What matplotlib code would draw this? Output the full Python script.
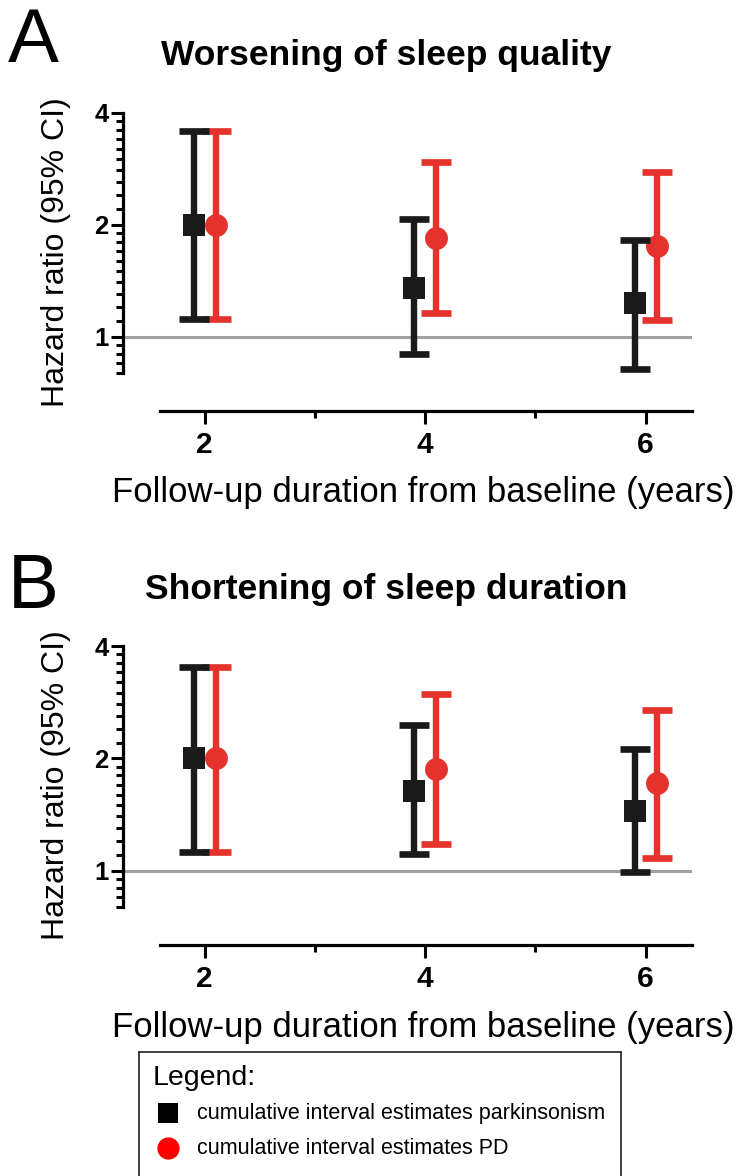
import matplotlib
matplotlib.use("Agg")
import matplotlib.pyplot as plt
from matplotlib.lines import Line2D
import numpy as np

# ---------------- data ----------------
years = [2, 4, 6]
# Panel A: Worsening of sleep quality
a_park_hr = [2.00, 1.35, 1.23]
a_park_lo = [1.12, 0.90, 0.82]
a_park_hi = [3.57, 2.07, 1.82]
a_pd_hr = [2.00, 1.84, 1.75]
a_pd_lo = [1.12, 1.16, 1.11]
a_pd_hi = [3.57, 2.94, 2.77]
# Panel B: Shortening of sleep duration
b_park_hr = [2.00, 1.64, 1.45]
b_park_lo = [1.12, 1.11, 0.99]
b_park_hi = [3.52, 2.46, 2.12]
b_pd_hr = [2.00, 1.87, 1.72]
b_pd_lo = [1.12, 1.18, 1.08]
b_pd_hi = [3.52, 2.98, 2.70]

titles = ["Worsening of sleep quality", "Shortening of sleep duration"]
letters = ["A", "B"]
y_major = [1, 2, 4]
y_labels = ["1", "2", "4"]
x_major = [2, 4, 6]
x_labels = ["2", "4", "6"]
legend_labels = ["cumulative interval estimates parkinsonism",
                 "cumulative interval estimates PD"]

# ---------------- style ----------------
plt.rcParams["font.family"] = ["Liberation Sans", "DejaVu Sans"]

BLACK = "#1a1a1a"
RED = "#e5322d"
GRAY = "#a0a0a0"

W, H = 742, 1176
fig = plt.figure(figsize=(W / 100, H / 100), dpi=100)


def fx(px):
    return px / W


def fy(py):
    return 1 - py / H


def panel(top_px, bot_px, park, pd):
    left_px, right_px = 123, 692
    ax = fig.add_axes([fx(left_px), fy(bot_px), fx(right_px - left_px),
                       (bot_px - top_px) / H])
    ax.set_yscale("log", base=2)
    ax.set_ylim(0.8, 4)
    ax.set_xlim(1.26, 6.42)
    ax.axhline(1, color=GRAY, lw=2.2, zorder=1)
    handles = []
    for (hr, lo, hi), col, mk, dx, z in [(pd, RED, "o", 0.1, 2),
                                         (park, BLACK, "s", -0.1, 3)]:
        hr = np.array(hr); lo = np.array(lo); hi = np.array(hi)
        xs = np.array(years) + dx
        cont = ax.errorbar(xs, hr, yerr=[hr - lo, hi - hr], fmt=mk,
                           color=col, ms=16.5, elinewidth=4.6,
                           capsize=10.5, capthick=4.8, zorder=z)
        cont[0].set_markeredgewidth(0)
        handles.append(cont)
    ax.set_yticks(y_major)
    ax.set_yticklabels(y_labels)
    minor = [0.8, 0.85, 0.9, 0.95] + [1 + 0.1 * i for i in range(1, 10)] + \
            [2 + 0.2 * i for i in range(1, 10)]
    ax.set_yticks(minor, minor=True)
    ax.yaxis.set_minor_formatter(matplotlib.ticker.NullFormatter())
    ax.set_xticks(x_major)
    ax.set_xticklabels(x_labels)
    ax.set_xticks([3, 5], minor=True)
    for s in ["top", "right"]:
        ax.spines[s].set_visible(False)
    ax.spines["left"].set_linewidth(2.3)
    ax.spines["bottom"].set_linewidth(2.3)
    ax.spines["bottom"].set_position(("outward", 27))
    ax.spines["bottom"].set_bounds(1.6, 6.42)
    ax.tick_params(axis="y", which="major", length=8.5, width=2.2, pad=2,
                   labelsize=18.5)
    ax.tick_params(axis="y", which="minor", length=5, width=2.2)
    ax.tick_params(axis="x", which="major", length=9, width=2.2, pad=6,
                   labelsize=21.5)
    ax.tick_params(axis="x", which="minor", length=5, width=2.2)
    for t in ax.get_yticklabels() + ax.get_xticklabels():
        t.set_fontweight("bold")
    return ax, handles


axA, hA = panel(112.7, 373, (a_park_hr, a_park_lo, a_park_hi),
                (a_pd_hr, a_pd_lo, a_pd_hi))
axB, hB = panel(646, 907, (b_park_hr, b_park_lo, b_park_hi),
                (b_pd_hr, b_pd_lo, b_pd_hi))

# panel texts
for title, letter, ty, ly, xly, yly in [
        (titles[0], letters[0], 56, 43, 493, 252),
        (titles[1], letters[1], 589, 589, 1028, 785)]:
    fig.text(fx(386), fy(ty), title, ha="center", va="center",
             fontsize=25.5, fontweight="bold")
    fig.text(fx(8), fy(ly), letter, ha="left", va="center", fontsize=55)
    fig.text(fx(423), fy(xly), "Follow-up duration from baseline (years)",
             ha="center", va="center", fontsize=25)
    fig.text(fx(56), fy(yly), "Hazard ratio (95% CI)", ha="center",
             va="center", rotation=90, fontsize=23)

# legend box
L, R, T, B = 139, 621, 1052, 1195
lax = fig.add_axes([fx(L), fy(B), fx(R - L), (B - T) / H])
lax.set_xlim(L, R)
lax.set_ylim(B, T)
lax.set_xticks([]); lax.set_yticks([])
for s in lax.spines.values():
    s.set_linewidth(1.3)
    s.set_edgecolor("#333333")
lax.text(153, 1078, "Legend:", ha="left", va="center", fontsize=20.5)
leg_markers = [("s", 14, "black"), ("o", 16, "#ff0000")]
for (mk, ms, col), lab, yy in zip(leg_markers, legend_labels, [1113, 1148]):
    lax.add_line(Line2D([168], [yy], ls="none", marker=mk, ms=ms, color=col,
                        mew=0))
    lax.text(197, yy, lab, ha="left", va="center", fontsize=15.5)

fig.savefig("out.png", dpi=100)
